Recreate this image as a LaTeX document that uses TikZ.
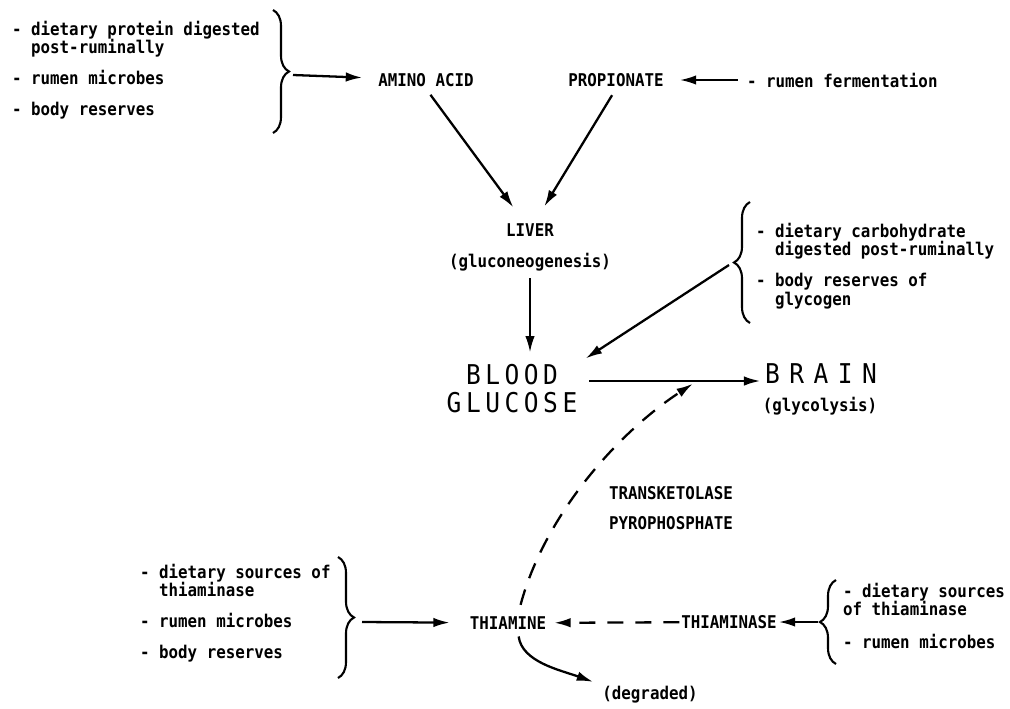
\documentclass[tikz,border=0pt]{standalone}
\usepackage{fontspec}
\usetikzlibrary{arrows.meta,decorations.pathreplacing}
\newfontfamily\typefont[FakeStretch=0.9]{DejaVu Sans Mono}

\begin{document}
\begin{tikzpicture}[x=0.2mm, y=-0.2mm,
    plain/.style ={font=\typefont\bfseries\fontsize{10}{10.5}\selectfont, inner sep=1pt},
    sources/.style ={plain, align=left, anchor=north west},
    bigtext/.style ={font=\typefont\fontsize{15.5}{16}\selectfont, inner sep=1pt},
    flow/.style ={line width=1.3pt, -{Latex[length=3.3mm, width=1.9mm]}},
    dashflow/.style ={flow, dash pattern=on 3.2mm off 2.4mm},
    bracket/.style ={line width=1.2pt, decorate, decoration={brace, amplitude=3.2mm}}]
   \useasboundingbox (0,0) rectangle (1010,708);

   \node[sources] (protein) at (10,19) {- dietary protein digested\\\phantom{- }post-ruminally\\[7pt]- rumen microbes\\[7pt]- body reserves};
   \draw[bracket] (273,10) -- (273,133);
   \coordinate (proteintip) at (293,75);
   \node[plain] (amino) at (426,80) {AMINO ACID};
   \node[plain] (propionate) at (616,80) {PROPIONATE};
   \node[plain, anchor=west] (fermentation) at (745,80) {- rumen fermentation};
   \node[plain] (liver) at (530,230) {LIVER};
   \node[plain] (gluconeo) at (530,262) {(gluconeogenesis)};
   \node[sources] (carbohydrate) at (754,221) {- dietary carbohydrate\\\phantom{- }digested post-ruminally\\[7pt]- body reserves of\\\phantom{- }glycogen};
   \draw[bracket] (750,323) -- (750,202);
   \coordinate (carbtip) at (729,265);
   \node[bigtext, align=center] (blood) at (512,389) {B\,L\,O\,O\,D\\G\,L\,U\,C\,O\,S\,E};
   \node[bigtext] (brain) at (821,374) {B\hspace{.35em}R\hspace{.35em}A\hspace{.35em}I\hspace{.35em}N};
   \node[plain] (glycolysis) at (820,406) {(glycolysis)};
   \coordinate (fork) at (697,381);
   \node[plain, align=left, anchor=west] (cofactor) at (607,508) {TRANSKETOLASE\\[7pt]PYROPHOSPHATE};
   \node[sources] (reserves) at (138,562) {- dietary sources of\\\phantom{- }thiaminase\\[7pt]- rumen microbes\\[7pt]- body reserves};
   \draw[bracket] (338,557) -- (338,678);
   \coordinate (reservetip) at (362,622);
   \node[plain] (thiamine) at (508,623) {THIAMINE};
   \node[plain] (thiaminase) at (729,622) {THIAMINASE};
   \node[sources] (inhibitors) at (841,581) {- dietary sources\\of thiaminase\\[8pt]- rumen microbes};
   \draw[bracket] (836,664) -- (836,580);
   \coordinate (enzymetip) at (818,622);
   \node[plain] (degraded) at (650,695) {(degraded)};

   \draw[flow, shorten >=2.8mm] (proteintip) to (amino);
   \draw[flow, shorten <=1.5mm, shorten >=2.8mm] (fermentation) to (propionate);
   \draw[flow, shorten <=1.5mm, shorten >=3.5mm] (amino.south) to (liver);
   \draw[flow, shorten <=1.5mm, shorten >=3.5mm] (propionate.south) to (liver);
   \draw[flow, shorten <=1mm, shorten >=2mm] (gluconeo.south) to (gluconeo.south |- blood.north);
   \draw[flow, shorten >=1.5mm] (carbtip) to (blood.north east);
   \draw[flow, shorten <=2mm, shorten >=0.5mm] (blood.east |- fork) to (brain.west |- fork);
   \draw[dashflow, shorten <=2mm, shorten >=1mm] ([xshift=2mm]thiamine.north) .. controls (544,517) and (616,434) .. (fork);
   \draw[flow, shorten >=3.6mm] (reservetip) to (thiamine);
   \draw[dashflow, shorten >=1.2mm] (thiaminase) to (thiamine);
   \draw[flow] (enzymetip) to (thiaminase);
   \draw[flow, shorten <=1mm, shorten >=1.5mm] ([xshift=2mm]thiamine.south) .. controls (522,662) and (560,670) .. (degraded.north west);
\end{tikzpicture}
\end{document}
